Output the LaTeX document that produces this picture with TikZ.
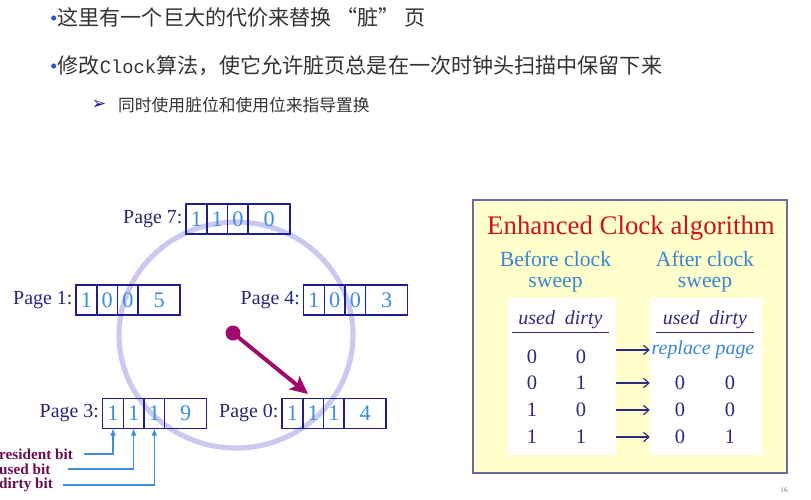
\documentclass[tikz,border=0pt]{standalone}
\usepackage{fontspec}
\setmainfont{Liberation Serif}
\newfontfamily\cjk{Noto Sans CJK SC}
\newfontfamily\monofont{Liberation Mono}
\newfontfamily\symfont{DejaVu Sans}
\usetikzlibrary{positioning,arrows.meta}

\definecolor{textgray}{HTML}{333333}
\definecolor{bulletblue}{HTML}{3355CC}
\definecolor{boxnavy}{HTML}{1E1E8C}
\definecolor{labelnavy}{HTML}{26267A}
\definecolor{bitblue}{HTML}{3D8CE0}
\definecolor{clockring}{HTML}{C9C9F2}
\definecolor{handpurple}{HTML}{9E0B6A}
\definecolor{notepurple}{HTML}{6B0D52}
\definecolor{panelyellow}{HTML}{FFFFCC}
\definecolor{panelframe}{HTML}{6A6AA2}
\definecolor{titlered}{HTML}{D0101E}
\definecolor{headblue}{HTML}{3A86D6}
\definecolor{tablenavy}{HTML}{2A2A80}

\begin{document}
\begin{tikzpicture}[
	x=0.03cm, y=-0.03cm,
	node distance=0pt,
	bitcell/.style={
	  draw=boxnavy,
	  line width=1.4pt,
	  outer sep=0pt,
	  inner sep=0pt,
	  minimum width=0.62cm,
	  minimum height=0.9cm,
	  text=bitblue,
	  font=\fontsize{19}{19}\selectfont
	  },
	framecell/.style={bitcell, minimum width=1.26cm},
	pagelabel/.style={text=labelnavy, inner sep=0pt, font=\fontsize{17}{17}\selectfont},
	note/.style={text=notepurple, inner sep=0pt, anchor=west, font=\bfseries\fontsize{13}{13}\selectfont},
	noteline/.style={-{Latex[length=6pt,width=5pt]}, draw=bitblue, line width=1.1pt},
	hand/.style={-{Stealth[length=15pt,width=14pt,inset=3pt]}, draw=handpurple, line width=3.4pt},
	cjktext/.style={anchor=west, inner sep=0pt, text=textgray},
	whitebox/.style={fill=white, minimum height=4.71cm, inner sep=0pt},
	colhead/.style={text=tablenavy, inner sep=0pt, minimum width=2.91cm, minimum height=0.72cm,
	  font=\itshape\fontsize{17}{17}\selectfont},
	val/.style={text=tablenavy, inner sep=0pt, font=\fontsize{17.5}{17.5}\selectfont},
	ar/.style={-{Straight Barb[length=4.5pt,width=8pt]}, draw=tablenavy, line width=1pt},
	sweephead/.style={text=headblue, align=center, inner sep=0pt, font=\fontsize{18.5}{18}\selectfont}
	]
		\fill[white] (0,0) rectangle (811,499);
		\useasboundingbox (0,0) rectangle (811,499);

		% bullet text
		\node[cjktext, font=\cjk\fontsize{18}{18}\selectfont] (line1) at (50,17)
			{\textcolor{bulletblue}{\rmfamily •}这里有一个巨大的代价来替换\hspace{4pt}“脏”\hspace{4pt}页};
		\node[cjktext, font=\cjk\fontsize{18}{18}\selectfont] (line2) at (50,66)
			{\textcolor{bulletblue}{\rmfamily •}修改{\monofont\fontsize{16}{16}\selectfont Clock}算法，使它允许脏页总是在一次时钟头扫描中保留下来};
		\node[inner sep=0pt, text=boxnavy, font=\symfont\fontsize{15}{15}\selectfont] (mark) at (99,105) {➢};
		\node[cjktext, font=\cjk\fontsize{14.3}{14.3}\selectfont] (line3) at (118,105) {同时使用脏位和使用位来指导置换};

		% clock
		\draw[clockring, line width=4.4pt] (236,335) ellipse [x radius=3.51cm, y radius=3.39cm];

		\node[bitcell] (p7a) at (196.5,219) {1};
		\node[bitcell, right=of p7a] (p7b) {1};
		\node[bitcell, right=of p7b] (p7c) {0};
		\node[framecell, right=of p7c] (p7f) {0};
		\node[pagelabel, left=3pt of p7a] (p7) {Page 7:};

		\node[bitcell] (p1a) at (86.5,300) {1};
		\node[bitcell, right=of p1a] (p1b) {0};
		\node[bitcell, right=of p1b] (p1c) {0};
		\node[framecell, right=of p1c] (p1f) {5};
		\node[pagelabel, left=3pt of p1a] (p1) {Page 1:};

		\node[bitcell] (p4a) at (314,300) {1};
		\node[bitcell, right=of p4a] (p4b) {0};
		\node[bitcell, right=of p4b] (p4c) {0};
		\node[framecell, right=of p4c] (p4f) {3};
		\node[pagelabel, left=3pt of p4a] (p4) {Page 4:};

		\node[bitcell] (p3a) at (113,413.5) {1};
		\node[bitcell, right=of p3a] (p3b) {1};
		\node[bitcell, right=of p3b] (p3c) {1};
		\node[framecell, right=of p3c] (p3f) {9};
		\node[pagelabel, left=3pt of p3a] (p3) {Page 3:};

		\node[bitcell] (p0a) at (292.5,413.5) {1};
		\node[bitcell, right=of p0a] (p0b) {1};
		\node[bitcell, right=of p0b] (p0c) {1};
		\node[framecell, right=of p0c] (p0f) {4};
		\node[pagelabel, left=3pt of p0a] (p0) {Page 0:};

		\node[circle, fill=handpurple, minimum size=0.45cm, inner sep=0pt] (pivot) at (233,333) {};
		\coordinate (handtip) at (308,394);
		\draw[hand] (pivot.center) -- (handtip);

		% bit names
		\node[note] (res) at (-1,454) {resident bit};
		\node[note] (used) at (-1,469) {used bit};
		\node[note] (dirty) at (-1,485) {dirty bit};
		\draw[noteline, shorten <=9pt] (res.east) -| (p3a.south);
		\draw[noteline, shorten <=15pt] (used.east) -| (p3b.south);
		\draw[noteline, shorten <=8.5pt] (dirty.east) -| (p3c.south);

		% enhanced clock panel
		\node[draw=panelframe, line width=1.5pt, fill=panelyellow, minimum width=9.42cm,
			minimum height=8.19cm] (panel) at (630,336.5) {};
		\node[text=titlered, font=\fontsize{22.9}{22.9}\selectfont] (title) at (631,228)
			{Enhanced Clock algorithm};
		\node[sweephead] (before) at (555.5,272) {Before clock\\sweep};
		\node[sweephead] (after) at (705,272) {After clock\\sweep};

		\node[whitebox, minimum width=3.24cm] (wl) at (562,376.5) {};
		\node[whitebox, minimum width=3.36cm] (wr) at (706,376.5) {};

		\node[colhead] (hl) at (560.5,320) {used\enspace dirty};
		\node[colhead] (hr) at (705,320) {used\enspace dirty};
		\draw[tablenavy, line width=1.2pt] (hl.south west) -- (hl.south east);
		\draw[tablenavy, line width=1.2pt] (hr.south west) -- (hr.south east);

		\foreach \u/\d/\y [count=\i] in {0/0/357, 0/1/383, 1/0/410, 1/1/437} {
			\node[val] (lu\i) at (532,\y) {\u};
			\node[val] (ld\i) at (581,\y) {\d};
		}
		\node[text=headblue, inner sep=0pt, font=\itshape\fontsize{17}{17}\selectfont] (ru1) at (703,350)
			{replace page};
		\foreach \u/\d/\y [count=\i from 2] in {0/0/383, 0/0/410, 0/1/437} {
			\node[val] (ru\i) at (680,\y) {\u};
			\node[val] (rd\i) at (730,\y) {\d};
		}
		\foreach \i in {1,...,4}
			\draw[ar] (wl.east |- ru\i) -- (wr.west |- ru\i);

		\node[text=panelframe, font=\fontsize{6}{6}\selectfont] (pgnum) at (784,490) {16};
	\end{tikzpicture}
\end{document}
